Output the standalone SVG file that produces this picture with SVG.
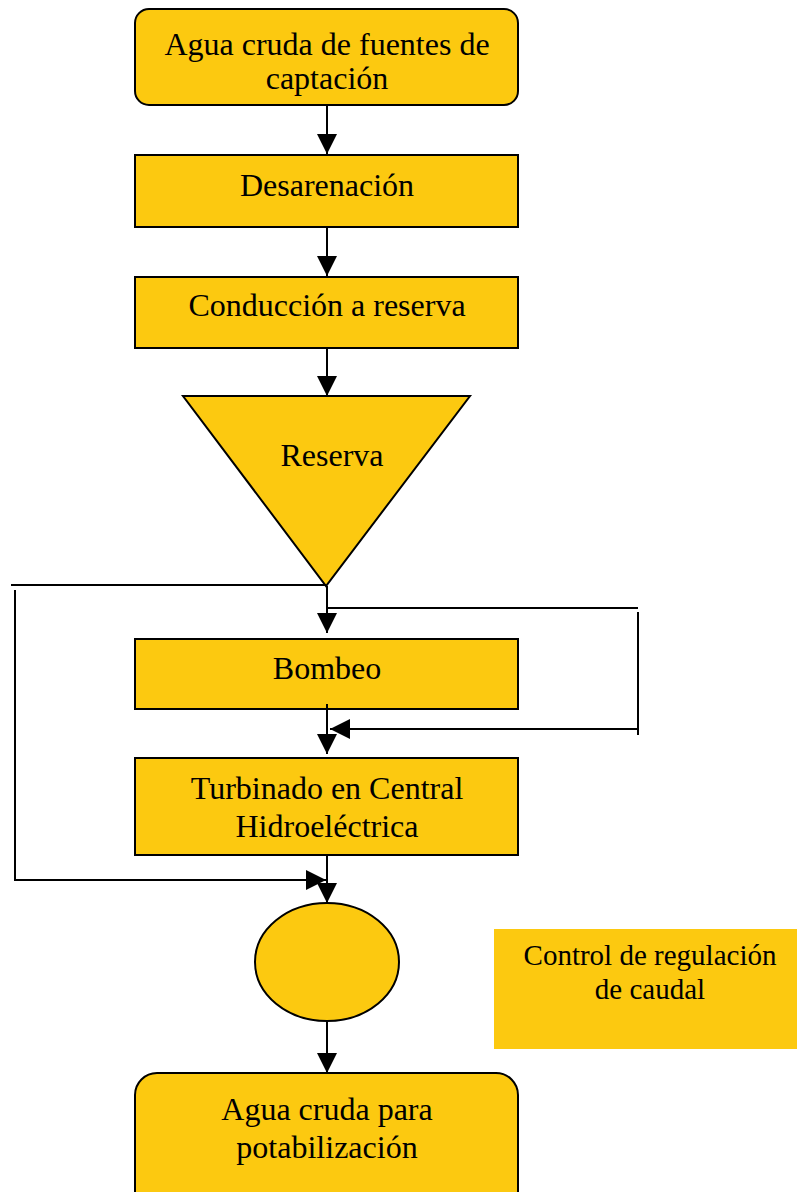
<svg xmlns="http://www.w3.org/2000/svg" width="797" height="1192" viewBox="0 0 797 1192">
  <style>
    .box { fill: #FCC910; stroke: #000; stroke-width: 2; }
    .lbl { font-family: "Liberation Serif", "Times New Roman", serif; font-size: 32px; fill: #000; text-anchor: middle; }
    .note { font-family: "Liberation Serif", "Times New Roman", serif; font-size: 29px; fill: #000; text-anchor: middle; }
    .wire { fill: none; stroke: #000; stroke-width: 2; }
  </style>
  <defs>
    <marker id="arrow" viewBox="0 0 20 20" refX="20" refY="10" markerWidth="20" markerHeight="20" markerUnits="userSpaceOnUse" orient="auto">
      <path d="M0,0 L20,10 L0,20 Z" fill="#000"/>
    </marker>
  </defs>

  <rect width="797" height="1192" fill="#fff"/>

  <g id="fuentes">
    <rect class="box" x="135" y="9" width="383" height="96" rx="14"/>
    <text class="lbl" x="327" y="55">Agua cruda de fuentes de</text>
    <text class="lbl" x="327" y="89">captación</text>
  </g>

  <g id="desarenacion">
    <rect class="box" x="135" y="155" width="383" height="72"/>
    <text class="lbl" x="327" y="196">Desarenación</text>
  </g>

  <g id="conduccion">
    <rect class="box" x="135" y="277" width="383" height="71"/>
    <text class="lbl" x="327" y="316">Conducción a reserva</text>
  </g>

  <g id="reserva">
    <path class="box" d="M183,396 L470,396 L326,586 Z"/>
    <text class="lbl" x="332" y="466">Reserva</text>
  </g>

  <g id="bombeo">
    <rect class="box" x="135" y="639" width="383" height="70"/>
    <text class="lbl" x="327" y="679">Bombeo</text>
  </g>

  <g id="turbinado">
    <rect class="box" x="135" y="758" width="383" height="97"/>
    <text class="lbl" x="327" y="799">Turbinado en Central</text>
    <text class="lbl" x="327" y="837">Hidroeléctrica</text>
  </g>

  <g id="control">
    <ellipse class="box" cx="327" cy="962" rx="72" ry="59"/>
  </g>

  <g id="regulacion">
    <rect x="494" y="929" width="303" height="120" fill="#FCC910"/>
    <text class="note" x="650" y="965">Control de regulación</text>
    <text class="note" x="650" y="999">de caudal</text>
  </g>

  <g id="potabilizacion">
    <rect class="box" x="135" y="1073" width="383" height="140" rx="22"/>
    <text class="lbl" x="327" y="1120">Agua cruda para</text>
    <text class="lbl" x="327" y="1158">potabilización</text>
  </g>

  <g id="connectors">
    <line class="wire" x1="327" y1="105" x2="327" y2="154" marker-end="url(#arrow)"/>
    <line class="wire" x1="327" y1="227" x2="327" y2="276" marker-end="url(#arrow)"/>
    <line class="wire" x1="327" y1="348" x2="327" y2="396" marker-end="url(#arrow)"/>
    <!-- reserva to bombeo -->
    <line class="wire" x1="327" y1="586" x2="327" y2="633" marker-end="url(#arrow)"/>
    <!-- bypass of bombeo on the right -->
    <polyline class="wire" points="327,608 638,608"/>
    <line class="wire" x1="638" y1="612" x2="638" y2="735"/>
    <line class="wire" x1="638" y1="729" x2="330" y2="729" marker-end="url(#arrow)"/>
    <!-- bombeo to turbinado -->
    <line class="wire" x1="327" y1="704" x2="327" y2="754" marker-end="url(#arrow)"/>
    <!-- bypass of the plant on the left -->
    <line class="wire" x1="11" y1="585" x2="326" y2="585"/>
    <polyline class="wire" points="15,590 15,880 326,880" marker-end="url(#arrow)"/>
    <!-- turbinado to control -->
    <line class="wire" x1="327" y1="855" x2="327" y2="903" marker-end="url(#arrow)"/>
    <line class="wire" x1="327" y1="1021" x2="327" y2="1073" marker-end="url(#arrow)"/>
  </g>
</svg>
